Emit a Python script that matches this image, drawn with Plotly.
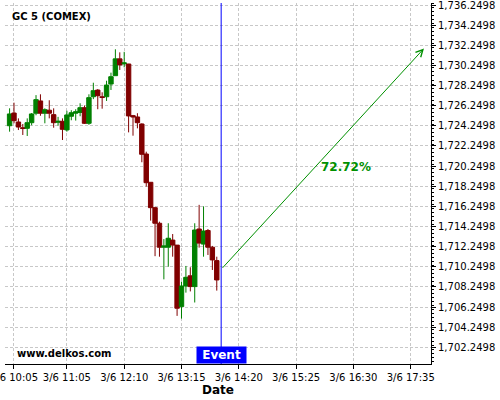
import plotly.graph_objects as go

DAY = "2025-03-06 "

times = ["10:00", "10:05", "10:10", "10:15", "10:20", "10:25", "10:30", "10:35", "10:40", "10:45",
         "10:50", "10:55", "11:00", "11:05", "11:10", "11:15", "11:20", "11:25", "11:30", "11:35",
         "11:40", "11:45", "11:50", "11:55", "12:00", "12:05", "12:10", "12:15", "12:20", "12:25",
         "12:30", "12:35", "12:40", "12:45", "12:50", "12:55", "13:00", "13:05", "13:10", "13:15",
         "13:20", "13:25", "13:30", "13:35", "13:40", "13:45", "13:50", "13:55"]

opens = [1724.26, 1725.52, 1724.63, 1724.06, 1724.00, 1724.56, 1725.50, 1726.72, 1725.50, 1725.80,
         1725.36, 1724.60, 1724.70, 1723.84, 1725.20, 1725.50, 1725.58, 1726.05, 1724.50, 1727.14,
         1727.80, 1727.14, 1727.14, 1728.40, 1729.23, 1730.90, 1730.40, 1730.39, 1725.26, 1725.13,
         1724.43, 1721.45, 1718.64, 1716.12, 1714.57, 1712.19, 1712.19, 1712.90, 1712.40, 1706.29,
         1708.34, 1709.35, 1708.28, 1714.00, 1712.50, 1713.85, 1712.19, 1710.86]
highs = [1725.99, 1726.55, 1724.99, 1724.43, 1724.99, 1725.52, 1727.30, 1727.38, 1725.99, 1726.79,
         1725.99, 1725.14, 1724.99, 1725.75, 1725.80, 1725.90, 1726.49, 1726.27, 1727.38, 1728.53,
         1727.90, 1727.58, 1728.73, 1729.53, 1731.85, 1731.55, 1731.60, 1730.40, 1725.33, 1725.50,
         1724.50, 1721.68, 1718.64, 1716.20, 1714.73, 1713.00, 1714.57, 1713.50, 1712.40, 1708.77,
         1710.33, 1710.20, 1714.57, 1716.40, 1716.25, 1714.00, 1712.32, 1711.25]
lows = [1723.67, 1724.50, 1723.83, 1723.34, 1723.24, 1724.30, 1725.30, 1725.25, 1724.50, 1724.99,
        1724.06, 1724.26, 1722.84, 1723.67, 1724.80, 1724.77, 1725.20, 1724.43, 1724.35, 1726.90,
        1725.90, 1725.95, 1726.72, 1727.81, 1729.23, 1729.80, 1730.06, 1723.60, 1723.27, 1724.00,
        1720.63, 1718.21, 1714.83, 1711.30, 1711.25, 1709.00, 1710.25, 1711.25, 1705.37, 1705.10,
        1707.68, 1707.80, 1706.70, 1712.15, 1711.25, 1711.42, 1709.93, 1707.88]
closes = [1725.43, 1724.76, 1724.13, 1723.98, 1724.56, 1725.43, 1726.85, 1725.50, 1725.85, 1725.50,
          1724.56, 1724.70, 1723.90, 1725.33, 1725.55, 1725.65, 1726.05, 1724.50, 1727.05, 1727.74,
          1727.24, 1727.06, 1728.30, 1729.13, 1730.90, 1730.30, 1730.50, 1725.23, 1725.13, 1724.56,
          1721.42, 1718.60, 1716.12, 1714.57, 1712.19, 1712.32, 1713.08, 1712.40, 1706.13, 1708.34,
          1709.20, 1708.28, 1713.90, 1712.60, 1713.80, 1712.19, 1710.93, 1708.94]

tick_times = ["10:05", "11:05", "12:10", "13:15", "14:20", "15:25", "16:30", "17:35"]
tick_labels = ["3/6 10:05", "3/6 11:05", "3/6 12:10", "3/6 13:15", "3/6 14:20", "3/6 15:25",
               "3/6 16:30", "3/6 17:35"]

event_time = "14:00"
arrow_start_time, arrow_start_value = "14:00", 1709.99
arrow_end_time, arrow_end_value = "17:50", 1731.93
pct_label, pct_time, pct_value = "72.72%", "16:22", 1720.15

x_range = ["09:54:48", "17:58:00"]
y_range = [1700.59, 1736.45]

GREEN = "#008000"
RED = "#800000"
FONT = "DejaVu Sans"

fig = go.Figure()
fig.add_trace(go.Candlestick(
    x=[DAY + t for t in times], open=opens, high=highs, low=lows, close=closes,
    increasing=dict(line=dict(color=GREEN, width=1), fillcolor=GREEN),
    decreasing=dict(line=dict(color=RED, width=1), fillcolor=RED),
    showlegend=False, whiskerwidth=0,
))

fig.add_shape(type="line", xref="x", yref="paper",
              x0=DAY + event_time, x1=DAY + event_time, y0=0, y1=1,
              line=dict(color="#0000FF", width=1))

fig.add_annotation(x=DAY + arrow_end_time, y=arrow_end_value,
                   ax=DAY + arrow_start_time, ay=arrow_start_value,
                   xref="x", yref="y", axref="x", ayref="y",
                   text="", showarrow=True, arrowhead=5, arrowsize=1.4,
                   arrowwidth=1, arrowcolor="#009000")
fig.add_annotation(x=DAY + pct_time, y=pct_value, xref="x", yref="y",
                   text="<b>" + pct_label + "</b>", showarrow=False,
                   font=dict(family=FONT, size=12, color="#009000"))
fig.add_annotation(x=DAY + event_time, y=0, xref="x", yref="paper",
                   xanchor="center", yanchor="bottom",
                   text="<b> Event </b>", showarrow=False, bgcolor="#0000FF",
                   borderpad=1, font=dict(family=FONT, size=12, color="white"))
fig.add_annotation(x=0.023, y=0.028, xref="paper", yref="paper",
                   xanchor="left", yanchor="middle",
                   text="<b>www.delkos.com</b>", showarrow=False,
                   font=dict(family=FONT, size=10, color="black"))
fig.add_annotation(x=0.012, y=0.962, xref="paper", yref="paper",
                   xanchor="left", yanchor="middle",
                   text="<b>GC 5 (COMEX)</b>", showarrow=False,
                   font=dict(family=FONT, size=10, color="black"))

fig.update_layout(
    width=500, height=400,
    margin=dict(l=5, r=69, t=3, b=36, autoexpand=False),
    paper_bgcolor="white", plot_bgcolor="white",
    font=dict(family=FONT, size=10, color="black"),
    boxgap=0.0, boxgroupgap=0.0,
    showlegend=False,
)
fig.update_xaxes(
    type="date", range=[DAY + r for r in x_range], automargin=False,
    rangeslider=dict(visible=False),
    tickmode="array", tickvals=[DAY + t for t in tick_times], ticktext=tick_labels,
    ticklabeloverflow="allow",
    ticks="outside", ticklen=4, tickcolor="black",
    showline=True, linecolor="black", linewidth=1,
    showgrid=True, gridcolor="#c8c8c8", griddash="3px,2px", gridwidth=1,
    zeroline=False, tickfont=dict(size=10),
    title=dict(text="<b>Date</b>", font=dict(size=12), standoff=2),
)
fig.update_yaxes(
    side="right", range=y_range, automargin=False,
    ticklabeloverflow="allow",
    tickmode="linear", tick0=1702.2498, dtick=2, tickformat=",.4f",
    ticks="outside", ticklen=4, tickcolor="black",
    minor=dict(dtick=0.4, ticklen=2, tickcolor="black", ticks="outside", showgrid=False),
    showline=True, linecolor="black", linewidth=1,
    showgrid=True, gridcolor="#c8c8c8", griddash="3px,2px", gridwidth=1,
    zeroline=False, tickfont=dict(size=10),
)

fig.write_html(
    "out.html",
    config={"displayModeBar": False},
    post_script="document.body.style.margin='0px';document.body.style.overflow='hidden';",
)
